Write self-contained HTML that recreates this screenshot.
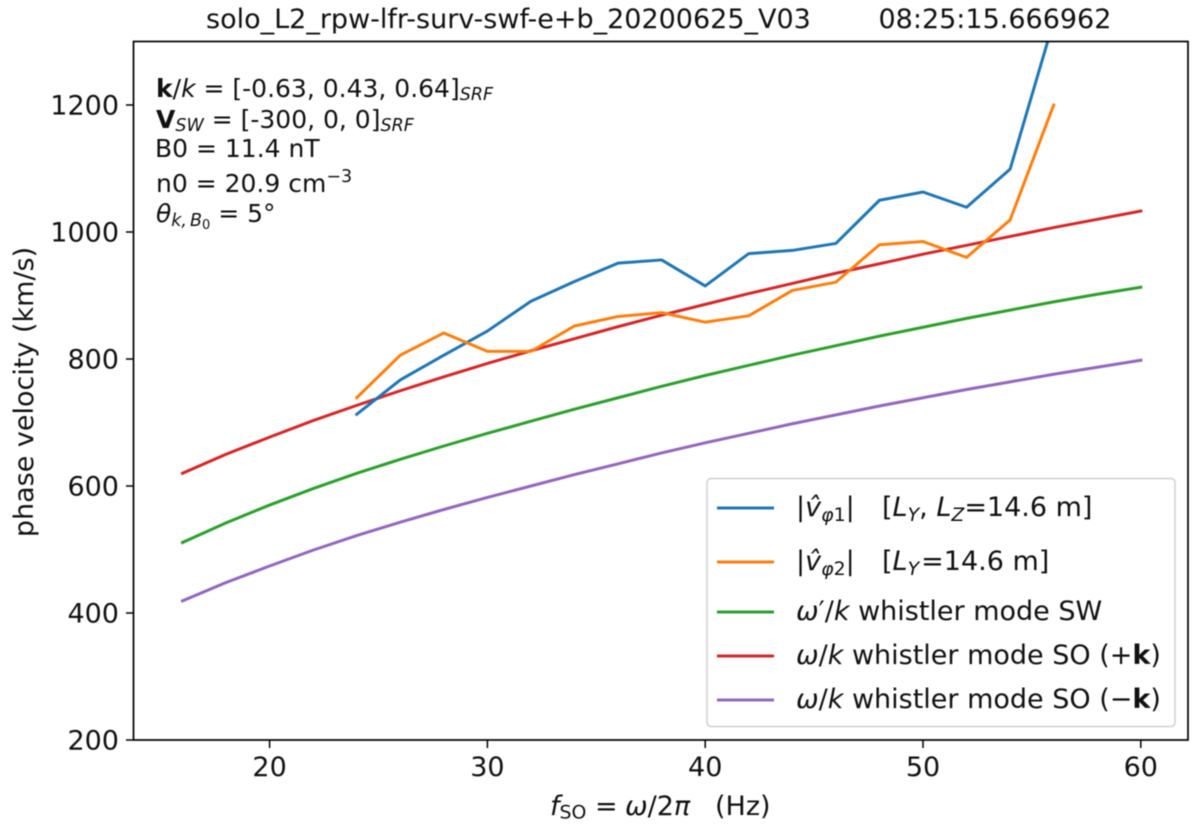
<!DOCTYPE html>
<html lang="en">
<head>
<meta charset="utf-8">
<title>Phase velocity chart</title>
<style>
html,body{margin:0;padding:0;background:#fff;width:1200px;height:827px;overflow:hidden}
svg{display:block;font-family:"DejaVu Sans","Liberation Sans",sans-serif;fill:#111;filter:blur(0.45px)}
text{white-space:pre}
.i{font-style:italic}
.b{font-weight:bold}
</style>
</head>
<body>
<svg id="chart" width="1200" height="827" viewBox="0 0 1200 827" xmlns="http://www.w3.org/2000/svg">
  <defs><clipPath id="plot-clip"><rect x="133.5" y="41.5" width="1054.5" height="698.5"/></clipPath></defs>
  <rect x="0" y="0" width="1200" height="827" fill="#fff"/>

  <g id="ticks"></g>
  <g id="marks" clip-path="url(#plot-clip)"></g>
  <rect x="133.5" y="41.5" width="1054.5" height="698.5" fill="none" stroke="#000" stroke-width="1.7"/>

  <text x="206" y="28" font-size="27">solo_L2_rpw-lfr-surv-swf-e+b_20200625_V03</text>
  <text x="878.5" y="28" font-size="27">08:25:15.666962</text>

  <g font-size="25">
    <text x="156" y="97"><tspan class="b">k</tspan>/<tspan class="i">k</tspan> = [-0.63, 0.43, 0.64]<tspan class="i" font-size="17.5" dy="3">SRF</tspan></text>
    <text x="156" y="128"><tspan class="b">V</tspan><tspan class="i" font-size="17.5" dy="3">SW</tspan><tspan dy="-3"> = [-300, 0, 0]</tspan><tspan class="i" font-size="17.5" dy="3">SRF</tspan></text>
    <text x="155" y="157">B0 = 11.4 nT</text>
    <text x="156" y="192">n0 = 20.9 cm<tspan font-size="17.5" dy="-10">−3</tspan></text>
    <text x="156" y="222"><tspan class="i">θ</tspan><tspan class="i" font-size="17.5" dy="4">k,</tspan><tspan class="i" font-size="17.5" dx="3">B</tspan><tspan font-size="13" dy="3">0</tspan><tspan dy="-7"> = 5°</tspan></text>
  </g>

  <text y="815" font-size="27"><tspan class="i" x="550">f</tspan><tspan font-size="18.9" dy="3.5">SO</tspan><tspan dy="-3.5" x="595">=</tspan><tspan class="i" x="625">ω</tspan>/2<tspan class="i">π</tspan><tspan x="715">(Hz)</tspan></text>
  <text text-anchor="middle" font-size="27" transform="translate(33,392) rotate(-90)">phase velocity (km/s)</text>

  <g>
    <rect x="707" y="478.5" width="468" height="248" rx="4" ry="4" fill="#fff" fill-opacity="0.85" stroke="#d2d2d2" stroke-width="1.6"/>
    <g id="legend-lines"></g>
    <g font-size="27">
      <text x="796" y="516">|<tspan class="i">v̂</tspan><tspan class="i" font-size="18.9" dy="5">φ</tspan><tspan font-size="18.9">1</tspan><tspan dy="-5">|</tspan><tspan x="882">[</tspan><tspan class="i">L</tspan><tspan class="i" font-size="18.9" dy="5">Y</tspan><tspan dy="-5">, </tspan><tspan class="i">L</tspan><tspan class="i" font-size="18.9" dy="5">Z</tspan><tspan dy="-5">=14.6 m]</tspan></text>
      <text x="796" y="570">|<tspan class="i">v̂</tspan><tspan class="i" font-size="18.9" dy="5">φ</tspan><tspan font-size="18.9">2</tspan><tspan dy="-5">|</tspan><tspan x="882">[</tspan><tspan class="i">L</tspan><tspan class="i" font-size="18.9" dy="5">Y</tspan><tspan dy="-5" dx="2">=14.6 m]</tspan></text>
      <text x="796" y="620"><tspan class="i">ω</tspan>′/<tspan class="i">k</tspan> whistler mode SW</text>
      <text x="796" y="664"><tspan class="i">ω</tspan>/<tspan class="i">k</tspan> whistler mode SO (+<tspan class="b">k</tspan>)</text>
      <text x="796" y="708"><tspan class="i">ω</tspan>/<tspan class="i">k</tspan> whistler mode SO (−<tspan class="b">k</tspan>)</text>
    </g>
  </g>
</svg>
<script>
const xTickValues = [20, 30, 40, 50, 60];
const yTickValues = [200, 400, 600, 800, 1000, 1200];
const measuredFreq = [24, 26, 28, 30, 32, 34, 36, 38, 40, 42, 44, 46, 48, 50, 52, 54, 56];
const modelFreq = [16, 18, 20, 22, 24, 26, 28, 30, 32, 34, 36, 38, 40, 42, 44, 46, 48, 50, 52, 54, 56, 58, 60];
const vPhi1 = [713, 767, 806, 844, 891, 922, 951, 956, 915, 966, 971, 982, 1050, 1063, 1039, 1099, 1332];
const vPhi2 = [739, 806, 841, 812, 812, 852, 867, 873, 858, 868, 908, 921, 980, 985, 960, 1019, 1200];
const whistlerSW = [511, 542, 570, 596, 620, 642, 663, 683, 702, 721, 739, 757, 774, 790, 806, 821, 836, 850, 864, 877, 890, 902, 913];
const whistlerSOPlus = [620, 650, 677, 703, 727, 750, 772, 793, 813, 832, 851, 869, 886, 903, 919, 935, 950, 965, 979, 993, 1007, 1020, 1033];
const whistlerSOMinus = [419, 448, 474, 499, 522, 543, 563, 582, 600, 618, 635, 652, 668, 683, 698, 712, 726, 739, 752, 764, 776, 787, 798];

const NS = 'http://www.w3.org/2000/svg';
function xScale(f) { return 269.6 + (f - 20) * 21.78; }
function yScale(v) { return 740 - (v - 200) * 0.635; }

const ticksGroup = document.getElementById('ticks');
const marksGroup = document.getElementById('marks');
const legendLines = document.getElementById('legend-lines');

xTickValues.forEach(function (t) {
  const line = document.createElementNS(NS, 'line');
  
  
  line.setAttribute('x1', xScale(t));
  line.setAttribute('x2', xScale(t));
  line.setAttribute('y1', 740);
  line.setAttribute('y2', 748);
  line.setAttribute('stroke', '#000');
  line.setAttribute('stroke-width', 1.5);
  ticksGroup.appendChild(line);
  const label = document.createElementNS(NS, 'text');
  
  
  label.setAttribute('x', xScale(t));
  label.setAttribute('y', 776);
  label.setAttribute('text-anchor', 'middle');
  label.setAttribute('font-size', 27);
  label.textContent = String(t);
  ticksGroup.appendChild(label);
});

yTickValues.forEach(function (t) {
  const line = document.createElementNS(NS, 'line');
  
  
  line.setAttribute('x1', 126);
  line.setAttribute('x2', 133.5);
  line.setAttribute('y1', yScale(t));
  line.setAttribute('y2', yScale(t));
  line.setAttribute('stroke', '#000');
  line.setAttribute('stroke-width', 1.5);
  ticksGroup.appendChild(line);
  const label = document.createElementNS(NS, 'text');
  
  
  label.setAttribute('x', 119);
  label.setAttribute('y', yScale(t) + 9.5);
  label.setAttribute('text-anchor', 'end');
  label.setAttribute('font-size', 27);
  label.textContent = String(t);
  ticksGroup.appendChild(label);
});

function drawSeries(name, freqs, values, color) {
  const path = document.createElementNS(NS, 'polyline');
  
  
  path.setAttribute('points', freqs.map(function (f, i) {
    return xScale(f).toFixed(2) + ',' + yScale(values[i]).toFixed(2);
  }).join(' '));
  path.setAttribute('fill', 'none');
  path.setAttribute('stroke', color);
  path.setAttribute('stroke-width', 3);
  path.setAttribute('stroke-linejoin', 'round');
  path.setAttribute('stroke-linecap', 'square');
  marksGroup.appendChild(path);
}

function drawLegendLine(name, y, color) {
  const line = document.createElementNS(NS, 'line');
  
  
  line.setAttribute('x1', 717);
  line.setAttribute('x2', 774);
  line.setAttribute('y1', y);
  line.setAttribute('y2', y);
  line.setAttribute('stroke', color);
  line.setAttribute('stroke-width', 3);
  legendLines.appendChild(line);
}

drawSeries('series-whistler-sw', modelFreq, whistlerSW, '#2ca02c');
drawSeries('series-whistler-so-plus-k', modelFreq, whistlerSOPlus, '#d62728');
drawSeries('series-whistler-so-minus-k', modelFreq, whistlerSOMinus, '#9467bd');
drawSeries('series-vphi1', measuredFreq, vPhi1, '#1f77b4');
drawSeries('series-vphi2', measuredFreq, vPhi2, '#ff7f0e');

drawLegendLine('legend-handle-vphi1', 508, '#1f77b4');
drawLegendLine('legend-handle-vphi2', 562, '#ff7f0e');
drawLegendLine('legend-handle-sw', 612, '#2ca02c');
drawLegendLine('legend-handle-so-plus', 656, '#d62728');
drawLegendLine('legend-handle-so-minus', 700, '#9467bd');
</script>
</body>
</html>
